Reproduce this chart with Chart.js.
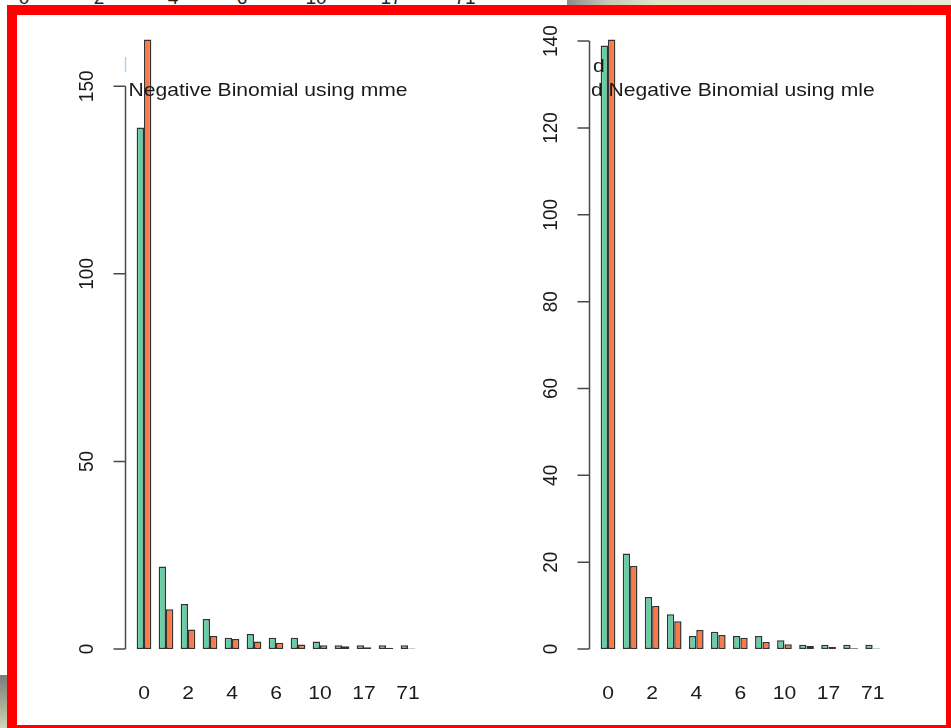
<!DOCTYPE html>
<html lang="en">
<head>
  <meta charset="UTF-8">
  <title>Negative Binomial fit</title>
  <style>
    html, body {
      margin: 0;
      width: 951px;
      height: 728px;
      overflow: hidden;
      background: #ffffff;
      font-family: "Liberation Sans", Arial, sans-serif;
    }
    .strip {
      position: absolute;
      left: 0;
      top: 0;
      width: 567px;
      height: 5px;
      overflow: hidden;
    }
    .strip span {
      position: absolute;
      top: -12px;
      font-size: 19px;
      line-height: 19px;
      color: #222;
      transform: translateX(-50%);
    }
    .shade-top {
      position: absolute;
      left: 567px;
      top: 0;
      width: 384px;
      height: 5px;
      background: linear-gradient(to right, #8c8c8c 0px, #c4c8b4 40px, #dfe5c9 90px, #e6ebd3 384px);
    }
    .shade-left {
      position: absolute;
      left: 0;
      top: 675px;
      width: 7px;
      height: 53px;
      background: linear-gradient(to bottom, #7c7c7c, #aab098 60%, #cfd6b8);
    }
    .frame {
      position: absolute;
      left: 7px;
      top: 5px;
      width: 949px;
      height: 730px;
      box-sizing: border-box;
      border: 10px solid #ff0000;
      background: #ffffff;
    }
    canvas {
      position: absolute;
      top: 15px;
    }
    #mmeChart { left: 17px; }
    #mleChart { left: 480px; }
  </style>
</head>
<body>
<div class="strip">
  <span style="left:24px">0</span>
  <span style="left:99px">2</span>
  <span style="left:173px">4</span>
  <span style="left:242px">6</span>
  <span style="left:316px">10</span>
  <span style="left:391px">17</span>
  <span style="left:465px">71</span>
</div>
<div class="shade-top"></div>
<div class="shade-left"></div>
<div class="frame"></div>
<canvas id="mmeChart" width="463" height="710"></canvas>
<canvas id="mleChart" width="466" height="710"></canvas>

<script src="https://cdn.jsdelivr.net/npm/chart.js"></script>
<script>
  // counts of the variable and how often each was seen
  const counts = ['0', '1', '2', '3', '4', '5', '6', '8', '10', '13', '17', '25', '71'];
  const observed = [139, 22, 12, 8, 3, 4, 3, 3, 2, 1, 1, 1, 1];
  // expected frequencies under the two negative binomial fits
  const mmeExpected = [162.5, 10.6, 5.2, 3.5, 2.7, 2.0, 1.7, 1.2, 1.0, 0.75, 0.45, 0.35, 0.15];
  const mleExpected = [140.4, 19.1, 9.9, 6.4, 4.4, 3.2, 2.6, 1.6, 1.1, 0.7, 0.45, 0.2, 0.1];
  const mmeTicks = [0, 50, 100, 150];
  const mleTicks = [0, 20, 40, 60, 80, 100, 120, 140];

  const STRETCH = 1.11;
  const FONT = '19px "Liberation Sans", Arial, sans-serif';
  const INK = '#1a1a1a';

  function stretchText(ctx, txt, x, y, align, rotate) {
    ctx.save();
    ctx.translate(x, y);
    ctx.scale(STRETCH, 1);
    if (rotate) ctx.rotate(-Math.PI / 2);
    ctx.textAlign = align;
    ctx.fillText(txt, 0, 0);
    ctx.restore();
  }

  // R style axes: y axis line offset from the bars, rotated tick labels,
  // every other category label underneath
  const rAxes = {
    id: 'rAxes',
    afterDraw(chart, args, opts) {
      const ctx = chart.ctx;
      const x = chart.scales.x;
      const y = chart.scales.y;
      const unit = (x.getPixelForValue(1) - x.getPixelForValue(0)) / 3;
      const axisX = x.getPixelForValue(0) - 2.52 * unit;
      const ticks = opts.ticks;

      ctx.save();
      ctx.strokeStyle = '#4a4a4a';
      ctx.lineWidth = 1.5;
      ctx.beginPath();
      ctx.moveTo(axisX, y.getPixelForValue(ticks[0]));
      ctx.lineTo(axisX, y.getPixelForValue(ticks[ticks.length - 1]));
      ticks.forEach(t => {
        const py = y.getPixelForValue(t);
        ctx.moveTo(axisX, py);
        ctx.lineTo(axisX - 12, py);
      });
      ctx.stroke();

      ctx.fillStyle = INK;
      ctx.font = FONT;
      ctx.textBaseline = 'middle';
      ticks.forEach(t => {
        stretchText(ctx, String(t), axisX - 38, y.getPixelForValue(t), 'center', true);
      });

      ctx.textBaseline = 'alphabetic';
      const base = chart.chartArea.bottom + 26;
      counts.forEach((c, i) => {
        if (i % 2 === 0) stretchText(ctx, c, x.getPixelForValue(i), base, 'center', false);
      });

      // legend text
      const top = chart.chartArea.top;
      opts.legend.forEach(line => {
        stretchText(ctx, line.text, axisX + line.dx, top + line.dy, 'left', false);
      });
      if (opts.marker) {
        ctx.strokeStyle = '#aad6f2';
        ctx.lineWidth = 1.5;
        ctx.beginPath();
        ctx.moveTo(axisX, top + 42);
        ctx.lineTo(axisX, top + 57);
        ctx.stroke();
      }
      ctx.restore();
    }
  };

  function makePanel(id, expected, ticks, legend, marker, padL, padR) {
    const top = Math.max(...observed, ...expected);
    new Chart(document.getElementById(id), {
      type: 'bar',
      data: {
        labels: counts,
        datasets: [
          {
            label: 'Observed',
            data: observed,
            backgroundColor: '#62cfa4'
          },
          {
            label: 'Expected',
            data: expected,
            backgroundColor: '#f87a48'
          }
        ]
      },
      options: {
        responsive: false,
        animation: false,
        devicePixelRatio: 1,
        layout: {
          padding: { left: padL, right: padR, top: 0, bottom: 51.6 }
        },
        datasets: {
          bar: {
            categoryPercentage: 2 / 3,
            barPercentage: 1,
            borderWidth: 1.5,
            borderColor: '#333333',
            borderSkipped: false
          }
        },
        scales: {
          x: { display: false },
          y: { display: false, min: -0.04 * top, max: 1.04 * top }
        },
        plugins: {
          legend: { display: false },
          tooltip: { enabled: false },
          rAxes: { ticks: ticks, legend: legend, marker: marker }
        }
      },
      plugins: [rAxes]
    });
  }

  makePanel('mmeChart', mmeExpected, mmeTicks,
    [{ text: 'Negative Binomial using mme', dx: 3, dy: 81 }], true, 116, 61);
  makePanel('mleChart', mleExpected, mleTicks,
    [{ text: 'd', dx: 3.5, dy: 56.7 }, { text: 'd Negative Binomial using mle', dx: 1.5, dy: 81 }], false, 117, 62.3);
</script>
</body>
</html>
